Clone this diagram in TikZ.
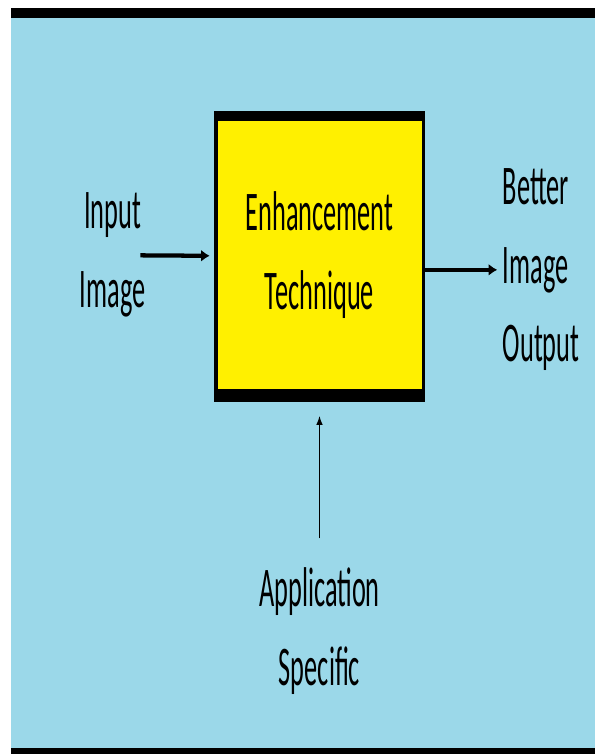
\documentclass[tikz,border=0pt]{standalone}
\usepackage{fontspec}
\usepackage{tikz}
\usetikzlibrary{arrows.meta, positioning}
\newfontfamily\calfont[FakeStretch=0.47]{Carlito}
\definecolor{fondo}{RGB}{155,216,233}
\definecolor{amarillo}{RGB}{255,240,0}
\tikzset{
    marco/.style = {fill=black, minimum width=158.25pt, minimum height=218.25pt},
    bloque/.style = {fill=amarillo, minimum width=153pt, minimum height=201pt},
    etiqueta/.style = {inner sep=0pt, font=\calfont\fontsize{42}{59}\selectfont},
    grueso/.style = {line width=3.2pt, -{Latex[length=6.5pt,width=9pt]}},
    fino/.style = {line width=1.2pt, -{Latex[length=7pt,width=5pt]}}
}

\begin{document}
\begin{tikzpicture}[x=0.75pt, y=-0.75pt]
    \useasboundingbox (0,0) rectangle (595,754);
    % Fondo
    \fill[fondo] (11,18) rectangle (595,748);
    \fill[black] (11,8) rectangle (595,18);
    \fill[black] (11,748) rectangle (595,754);
    % Nodos
    \node [marco] (frame) at (319.5,256.5) {};
    \node [bloque, etiqueta, align=center, yshift=1pt] (tech) at (frame.center) {Enhancement\\Technique};
    \node [etiqueta, align=center, left=51pt of frame, yshift=1pt] (in) {Input\\Image};
    \node [etiqueta, align=left, right=58pt of frame, yshift=-10pt] (out) {Better\\Image\\Output};
    \node [etiqueta, align=center, below=124pt of frame] (app) {Application\\Specific};
    % Flechas
    \draw [grueso, shorten <=-4pt, shorten >=3pt] (in) -- (frame);
    \draw [grueso, shorten >=4pt] (frame.east |- out.west) -- (out.west);
    \draw [fino, shorten <=22pt, shorten >=10pt] (app) -- (frame);
\end{tikzpicture}
\end{document}
